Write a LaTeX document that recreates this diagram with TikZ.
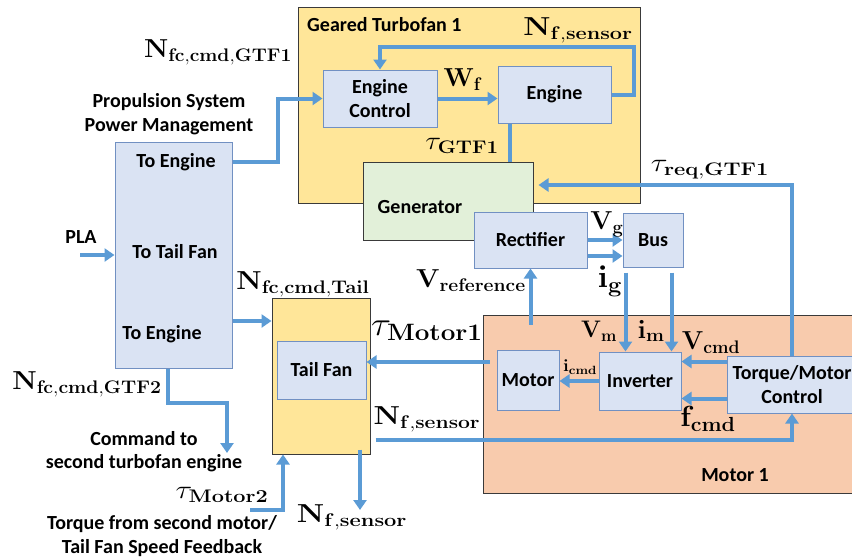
\RequirePackage{fix-cm}
\documentclass[tikz,border=0pt]{standalone}
\usepackage[no-math]{fontspec}
\setmainfont{Carlito}
\usepackage{amsmath}
\usepackage{graphicx}
\usetikzlibrary{arrows.meta,positioning,calc}
\definecolor{cBlk}{HTML}{DAE3F3}
\definecolor{cBlkEdge}{HTML}{7190C2}
\definecolor{cGtf}{HTML}{FFE699}
\definecolor{cGen}{HTML}{E2F0D9}
\definecolor{cMot}{HTML}{F8CBAD}
\definecolor{cSig}{HTML}{5B9BD5}
\definecolor{cEdge}{HTML}{3A3A3A}
\newcommand\bxfont{\fontsize{20}{23.5}\selectfont\bfseries}
\newcommand\mathsz{\fontsize{26}{30}\selectfont}
\newcommand\smallmath{\fontsize{17}{20}\selectfont}
% math label, stretched: \mlbl{xscale}[yscale]{formula}
\newcommand\mlbl[3][1]{\scalebox{#2}[#1]{$#3$}}
\tikzset{
  blk/.style={draw=cBlkEdge, line width=1pt, fill=cBlk, font=\bxfont, align=center, inner sep=0pt},
  grp/.style={draw=cEdge, line width=1pt, fill=#1, inner sep=0pt},
  sig/.style={-{Triangle[length=10pt,width=13pt]}, line width=4pt, draw=cSig},
  wire/.style={line width=4pt, draw=cSig},
  lbl/.style={font=\mathsz, inner sep=0pt},
  txt/.style={font=\bxfont, align=center, inner sep=0pt},
}

\begin{document}
\begin{tikzpicture}[x=1pt, y=-1pt]
  \useasboundingbox (0,0) rectangle (852,557);
  % geared turbofan 1
  \node[grp=cGtf, minimum width=342pt, minimum height=196pt] (gtf) at (469,105) {};
  \node[txt, anchor=west] (gtftitle) at (307,25) {Geared Turbofan 1};
  \node[blk, minimum width=114pt, minimum height=57pt] (ec) at (380,98.5) {Engine\\Control};
  \node[blk, minimum width=113pt, minimum height=57pt] (eng) at (554.5,94.5) {Engine};
  \node[grp=cGen, minimum width=170pt, minimum height=78pt] (gen) at (448,201) {};
  \node[txt] (gentxt) at (420,207) {Generator};
  \node[blk, minimum width=113pt, minimum height=56pt] (rect) at (530.5,240) {Rectifier};
  \node[blk, minimum width=60pt, minimum height=54pt] (bus) at (653,240) {Bus};
  % power management
  \node[txt] (pspmtitle) at (169,114) {Propulsion System\\Power Management};
  \node[blk, minimum width=117pt, minimum height=226pt] (pspm) at (173.5,255) {};
  \node[txt] (toeng1) at (176,162) {To Engine};
  \node[txt] (totail) at (175,252) {To Tail Fan};
  \node[txt] (toeng2) at (162,334) {To Engine};
  \node[txt] (pla) at (81,237) {PLA};
  \coordinate (plain) at (80,255);
  % tail fan
  \node[grp=cGtf, minimum width=98pt, minimum height=156pt] (tailo) at (321,376) {};
  \node[blk, minimum width=89pt, minimum height=58pt] (taili) at (321.5,370) {Tail Fan};
  % motor 1
  \node[grp=cMot, minimum width=375pt, minimum height=178pt] (m1) at (670.5,404) {};
  \node[txt] (m1title) at (735,475) {Motor 1};
  \node[blk, minimum width=62pt, minimum height=60pt] (mot) at (528,380) {Motor};
  \node[blk, minimum width=82pt, minimum height=58pt] (inv) at (640,381) {Inverter};
  \node[blk, minimum width=130pt, minimum height=57pt] (tmc) at (792,384.5) {Torque/Motor\\Control};
  % second engine / motor
  \node[txt] (cmd2) at (144,451.5) {Command to\\second turbofan engine};
  \node[txt] (trq2) at (162,536) {Torque from second motor/\\Tail Fan Speed Feedback};
  \coordinate (gtf2out) at (227,453);
  \coordinate (m2in) at (250,510);
  \coordinate (nfout) at (360,510);

  % signals
  \draw[sig] (pspm.east |- toeng1) -- ++(45,0) |- (ec.west);
  \draw[sig] (plain) -- (pspm.west |- plain);
  \draw[sig] ($(pspm.east)+(0,66)$) -- ($(pspm.east -| tailo.west)+(0,66)$);
  \draw[sig] ($(pspm.south)+(-6,0)$) -- ++(0,34) -| (gtf2out);
  \draw[sig] (m2in) -| ($(tailo.south)+(-38,0)$);
  \draw[sig] ($(tailo.south)+(39,-5)$) -- (nfout);
  \draw[sig] ($(tailo.east)+(5,64)$) -| (tmc.south);
  \draw[sig] ($(mot.west)+(-7,-18)$) -- ($(mot.west -| taili.east)+(0,-18)$);
  \draw[sig] ($(rect.south |- m1.north)+(0,10)$) -- (rect.south);
  \draw[sig] (rect.east) -- (rect.east -| bus.west);
  \draw[sig] ($(rect.east)+(0,16)$) -- ($(rect.east -| bus.west)+(0,16)$);
  \draw[sig] ($(bus.south west)+(3,5)$) -- ($(bus.south west |- inv.north)+(3,0)$);
  \draw[sig] ($(bus.south east)+(-12,5)$) -- ($(bus.south east |- inv.north)+(-12,0)$);
  \draw[sig] ($(tmc.west)+(0,-23)$) -- ($(tmc.west -| inv.east)+(0,-23)$);
  \draw[sig] ($(tmc.west)+(0,14)$) -- ($(tmc.west -| inv.east)+(0,14)$);
  \draw[sig] (inv.west) -- (inv.west -| mot.east);
  \draw[sig] (tmc.north) |- ($(gen.east)+(5,-16)$);
  \draw[wire] ($(eng.south west)+(12,0)$) -- ($(eng.south west |- gen.north)+(12,0)$);
  \draw[sig] (eng.east) -- ++(22,0) -- ++(0,-48) -| (ec.north);
  \draw[sig] (ec.east) -- (ec.east -| eng.west);

  % labels
  \node[lbl] (nfcgtf1) at (218,52) {\mlbl{1.06}{\mathbf{N}_{\mathbf{fc,cmd,GTF1}}}};
  \node[lbl] (nfs1) at (578,30) {\mlbl{1.19}{\mathbf{N}_{\mathbf{f,sensor}}}};
  \node[lbl] (wf) at (463,80) {\mlbl{1}{\mathbf{W}_{\mathbf{f}}}};
  \node[lbl] (tgtf1) at (462,146) {\mlbl{1.13}{\tau_{\mathbf{GTF1}}}};
  \node[lbl] (treq) at (710,170) {\mlbl{1.2}{\tau_{\mathbf{req,GTF1}}}};
  \node[lbl] (vg) at (607,224) {\mlbl{1}{\mathbf{V}_{\mathbf{g}}}};
  \node[lbl] (ig) at (610,281) {\mlbl[1.2]{1.3}{\mathbf{i}_{\mathbf{g}}}};
  \node[lbl] (vref) at (471,281) {\mlbl{1.06}{\mathbf{V}_{\mathbf{reference}}}};
  \node[lbl] (nfctail) at (303,284) {\mlbl{1.11}{\mathbf{N}_{\mathbf{fc,cmd,Tail}}}};
  \node[lbl] (tm1) at (427,331) {\mlbl[1.3]{1.43}{\tau_{\mathbf{Motor1}}}};
  \node[lbl] (vm) at (599,331) {\mlbl[0.92]{0.9}{\mathbf{V}_{\mathbf{m}}}};
  \node[lbl] (im) at (651,331) {\mlbl{1.05}{\mathbf{i}_{\mathbf{m}}}};
  \node[lbl] (vcmd) at (711,343) {\mlbl{0.97}{\mathbf{V}_{\mathbf{cmd}}}};
  \node[lbl, font=\smallmath] (icmd) at (580,367) {\mlbl{1.1}{\mathbf{i}_{\mathbf{cmd}}}};
  \node[lbl] (fcmd) at (708,419) {\mlbl[1.12]{1.18}{\mathbf{f}_{\mathbf{cmd}}}};
  \node[lbl] (nfs2) at (427,419) {\mlbl{1.16}{\mathbf{N}_{\mathbf{f,sensor}}}};
  \node[lbl] (nfs3) at (352,517) {\mlbl{1.2}{\mathbf{N}_{\mathbf{f,sensor}}}};
  \node[lbl] (nfcgtf2) at (87,384) {\mlbl{1.07}{\mathbf{N}_{\mathbf{fc,cmd,GTF2}}}};
  \node[lbl] (tm2) at (222,495) {\mlbl{1.19}{\tau_{\mathbf{Motor2}}}};
\end{tikzpicture}
\end{document}
